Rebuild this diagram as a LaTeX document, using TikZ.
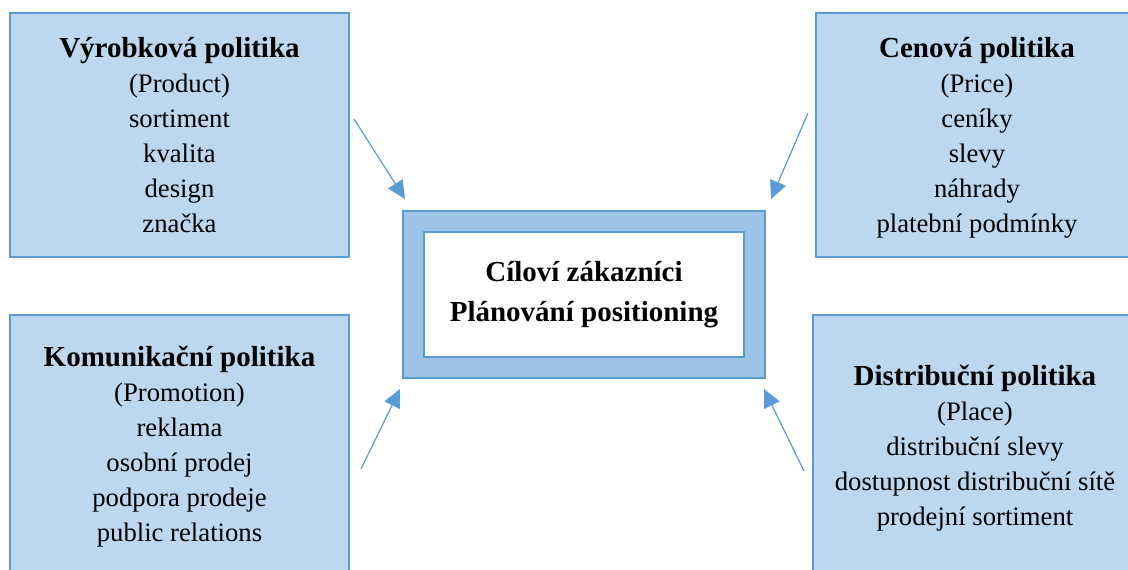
\documentclass[tikz,border=0pt]{standalone}
\usepackage{fontspec}
\setmainfont{Liberation Serif}
\usepackage{xcolor}
\usetikzlibrary{arrows.meta}

\definecolor{boxfill}{HTML}{BDD7EE}
\definecolor{framefill}{HTML}{9DC3E6}
\definecolor{edgeblue}{HTML}{5B9BD5}

\newcommand{\ptitle}[1]{{\fontsize{29}{36}\selectfont\bfseries #1}}

\tikzset{
  policy/.style={draw=edgeblue, fill=boxfill, line width=2pt, align=center,
    inner sep=0pt, text depth=0pt, font=\fontsize{26.7}{35}\selectfont},
  flow/.style={draw=edgeblue, line width=1.2pt,
    -{Triangle[length=18pt, width=17pt]}}
}

\begin{document}
\begin{tikzpicture}[x=1pt, y=-1pt]
    % Page frame
    \useasboundingbox (0,0) rectangle (1128,570);
    \clip (0,0) rectangle (1128,570);

    % The four policy boxes
    \node[policy, minimum width=339pt, minimum height=244pt] (product) at (179.5,135)
        {\ptitle{Výrobková politika}\\(Product)\\sortiment\\kvalita\\design\\značka};
    \node[policy, minimum width=322pt, minimum height=244pt] (price) at (977,135)
        {\ptitle{Cenová politika}\\(Price)\\ceníky\\slevy\\náhrady\\platební podmínky};
    \node[policy, minimum width=339pt, minimum height=258pt] (promo) at (179.5,444)
        {\ptitle{Komunikační politika}\\(Promotion)\\reklama\\osobní prodej\\podpora prodeje\\public relations};
    \node[policy, minimum width=324pt, minimum height=260pt] (place) at (975,445)
        {\ptitle{Distribuční politika}\\(Place)\\distribuční slevy\\dostupnost distribuční sítě\\prodejní sortiment};

    % Centre: framed box
    \node[draw=edgeblue, fill=framefill, line width=2pt, minimum width=362pt,
        minimum height=167pt] (core) at (584,294.5) {};
    \node[draw=edgeblue, fill=white, line width=2pt, minimum width=320pt,
        minimum height=125pt, align=center,
        font=\fontsize{29}{40}\selectfont\bfseries] (coreIn) at (core.center)
        {Cíloví zákazníci\\Plánování positioning};

    % Arrows towards the centre
    \coordinate (fromProduct) at (354,119);
    \coordinate (fromPrice) at (808,113);
    \coordinate (fromPromo) at (361,469);
    \coordinate (fromPlace) at (804,471);
    \draw[flow] (fromProduct) -- ([shift={(3,-11)}]core.north west);
    \draw[flow] (fromPrice) -- ([shift={(5,-11)}]core.north east);
    \draw[flow] (fromPromo) -- ([shift={(-2,10)}]core.south west);
    \draw[flow] (fromPlace) -- ([shift={(-2,10)}]core.south east);
\end{tikzpicture}
\end{document}
